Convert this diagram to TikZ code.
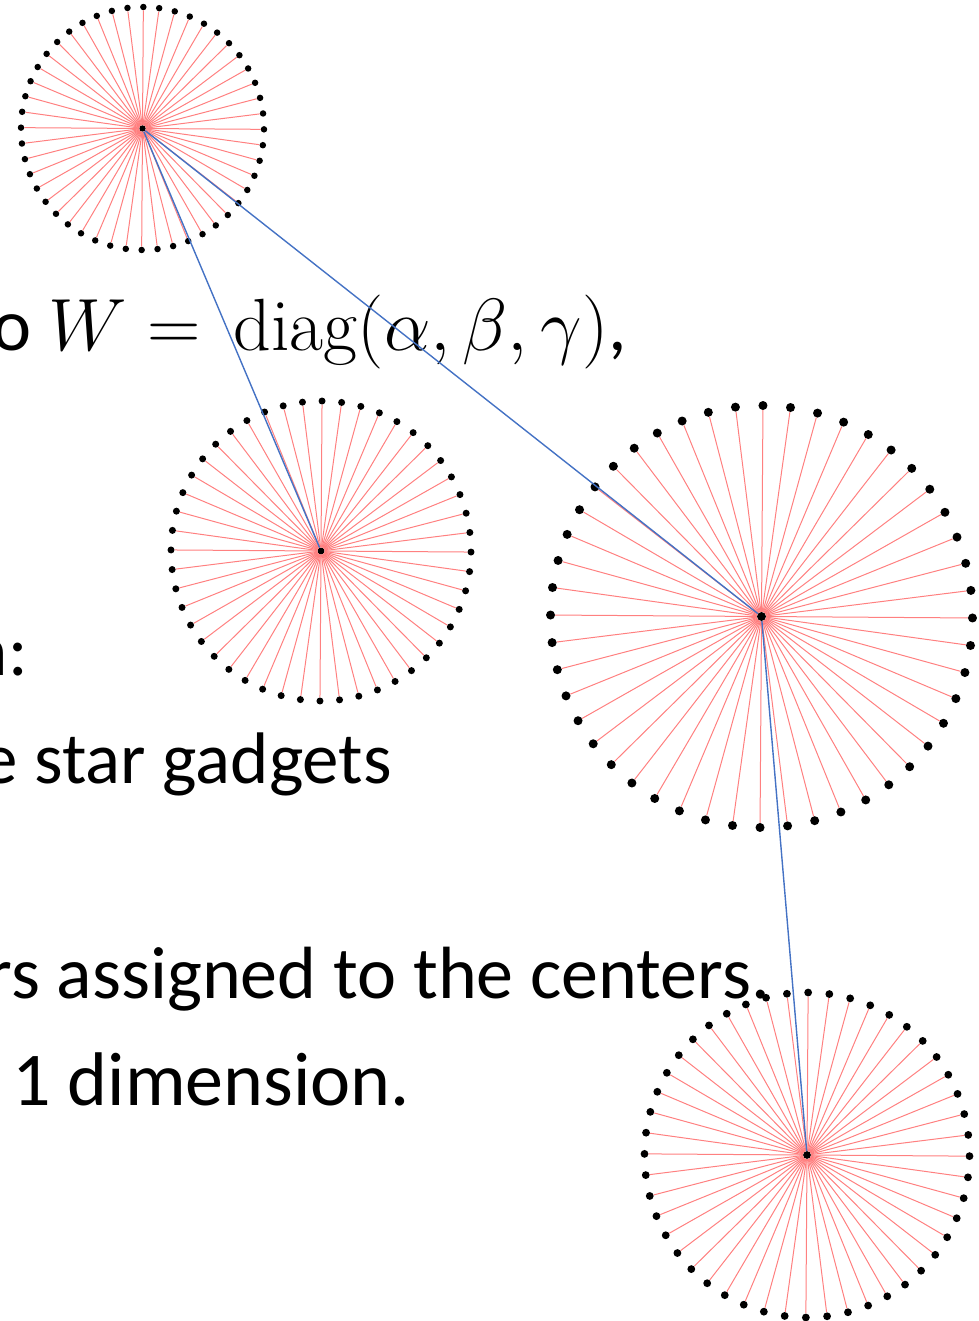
\RequirePackage{fix-cm}
\documentclass[tikz,border=0pt]{standalone}
\usepackage{tikz}
\usepackage{xcolor}
\usepackage{amsmath}
\usepackage{fontspec}
\newfontfamily\calibri{Carlito}
\usetikzlibrary{positioning}

\definecolor{linkblue}{HTML}{4472C4}
\definecolor{spokered}{HTML}{FF8080}

\tikzset{
  hub/.style={circle, fill=black, inner sep=0pt},
  leaf/.style={circle, fill=black, inner sep=0pt},
  spoke/.style={spokered, line width=1pt},
  link/.style={linkblue, line width=1.4pt},
  txt/.style={inner sep=0pt, font=\calibri\fontsize{#1}{#1}\selectfont},
  txt/.default=76
}

% star gadget: name, center, radius, dot size
\newcommand{\stargadget}[4]{%
  \begin{scope}[shift={(#2)}]
    \node[hub, minimum size=#4] (#1) at (0,0) {};
    \foreach \k in {1,...,48} {
      \node[leaf, minimum size=#4] (#1-\k) at (\k*7.5+0.4:#3) {};
      \draw[spoke] (#1) -- (#1-\k);
    }
  \end{scope}}

\begin{document}
\begin{tikzpicture}[x=1pt, y=-1pt]
  \useasboundingbox (0,0) rectangle (978,1321);
  \clip (0,0) rectangle (978,1321);

  % Text (cut at the left edge)
  \node[txt=74, anchor=base east] (l1) at (627,350)
    {o $W =\,\mathrm{diag}(\alpha,\beta,\gamma)$,};
  \node[txt=73, anchor=base east] (l2) at (28,675) {n:};
  \node[txt=73, anchor=base east] (l3) at (392,783) {e star gadgets};
  \node[txt=74, anchor=base east] (l4) at (770,998) {rs assigned to the centers.};
  \node[txt, anchor=base west] (l5) at (12,1105) {1 dimension.};

  % Star gadgets
  \stargadget{sa}{142.5,128.5}{121.5}{6.5pt}
  \stargadget{sb}{321,551}{150}{7pt}
  \stargadget{sc}{761.5,616.5}{211}{9pt}
  \stargadget{sd}{807,1155}{162.5}{7.8pt}

  % Links between centers
  \draw[link] (sa) -- (sb);
  \draw[link] (sa) -- (sc);
  \draw[link] (sc) -- (sd);
\end{tikzpicture}
\end{document}
